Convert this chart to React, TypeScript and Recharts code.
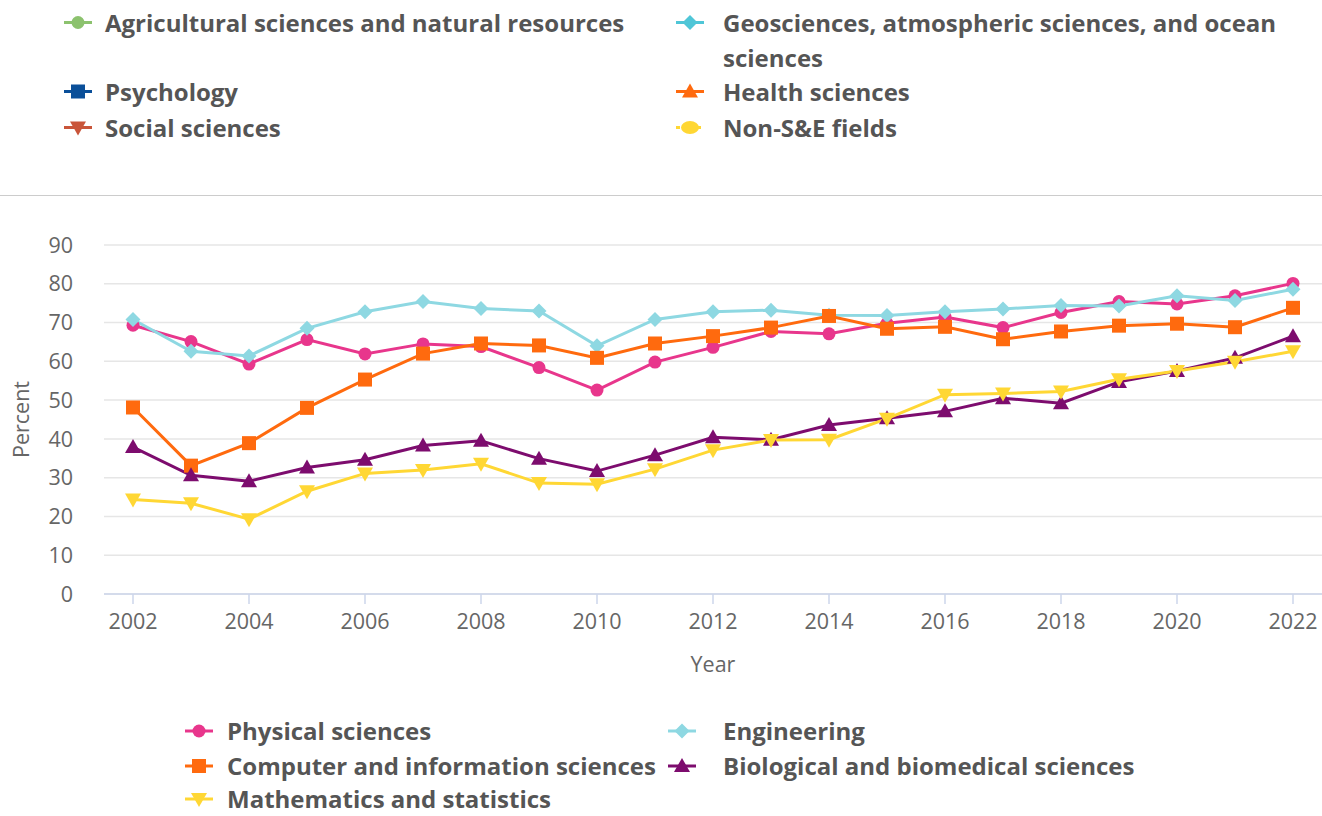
import React from 'react';
import { LineChart, Line, XAxis, YAxis, CartesianGrid, Label } from 'recharts';

const years = [2002, 2003, 2004, 2005, 2006, 2007, 2008, 2009, 2010, 2011, 2012, 2013, 2014, 2015, 2016, 2017, 2018, 2019, 2020, 2021, 2022];

const physical = [69.3, 65.1, 59.3, 65.6, 61.9, 64.5, 63.8, 58.4, 52.6, 59.8, 63.6, 67.7, 67.1, 69.8, 71.4, 68.7, 72.6, 75.4, 74.8, 76.9, 80.1];
const engineering = [70.8, 62.6, 61.4, 68.5, 72.8, 75.4, 73.6, 73.0, 64.0, 70.8, 72.8, 73.2, 71.9, 71.8, 72.8, 73.5, 74.4, 74.3, 76.9, 75.7, 78.6];
const computer = [48.1, 33.1, 38.9, 48.0, 55.3, 62.0, 64.6, 64.1, 60.9, 64.6, 66.5, 68.7, 71.7, 68.4, 68.9, 65.7, 67.7, 69.2, 69.7, 68.8, 73.8];
const biological = [37.9, 30.6, 29.1, 32.6, 34.6, 38.3, 39.5, 34.9, 31.7, 35.8, 40.4, 39.8, 43.6, 45.3, 47.1, 50.5, 49.2, 54.7, 57.5, 60.9, 66.5];
const maths = [24.4, 23.4, 19.3, 26.5, 31.1, 32.0, 33.6, 28.6, 28.3, 32.2, 37.1, 39.7, 39.8, 45.2, 51.4, 51.7, 52.2, 55.4, 57.5, 59.9, 62.6];

const yTicks = [0, 10, 20, 30, 40, 50, 60, 70, 80, 90];
const xTicks = [2002, 2004, 2006, 2008, 2010, 2012, 2014, 2016, 2018, 2020, 2022];

const data = years.map((year, i) => ({
  year,
  physical: physical[i],
  engineering: engineering[i],
  computer: computer[i],
  biological: biological[i],
  maths: maths[i],
}));

type Shape = 'circle' | 'diamond' | 'square' | 'triangle' | 'triangle-down' | 'ellipse';

const FONT = '"Open Sans", sans-serif';
const AXIS_TEXT = { fill: '#666666', fontSize: 21.5, fontFamily: FONT };

function marker(shape: Shape, cx: number, cy: number, color: string, key?: string) {
  switch (shape) {
    case 'circle':
      return <circle key={key} cx={cx} cy={cy} r={6.5} fill={color} />;
    case 'diamond':
      return <polygon key={key} points={`${cx},${cy - 7.5} ${cx + 7.5},${cy} ${cx},${cy + 7.5} ${cx - 7.5},${cy}`} fill={color} />;
    case 'square':
      return <rect key={key} x={cx - 7} y={cy - 7} width={14} height={14} fill={color} />;
    case 'triangle':
      return <polygon key={key} points={`${cx},${cy - 8} ${cx + 8},${cy + 6} ${cx - 8},${cy + 6}`} fill={color} />;
    case 'triangle-down':
      return <polygon key={key} points={`${cx - 8},${cy - 6} ${cx + 8},${cy - 6} ${cx},${cy + 8}`} fill={color} />;
    default:
      return <ellipse key={key} cx={cx} cy={cy} rx={9} ry={6.5} fill={color} />;
  }
}

function makeDot(shape: Shape, color: string) {
  return (props: any) => {
    const { cx, cy, index } = props;
    if (cx == null || cy == null) return <g key={`d-${index}`} />;
    return marker(shape, cx, cy, color, `d-${shape}-${index}`);
  };
}

const series = [
  { key: 'physical', name: 'Physical sciences', color: '#e8368c', shape: 'circle' as Shape },
  { key: 'engineering', name: 'Engineering', color: '#8ed8e2', shape: 'diamond' as Shape },
  { key: 'computer', name: 'Computer and information sciences', color: '#ff6a0e', shape: 'square' as Shape },
  { key: 'biological', name: 'Biological and biomedical sciences', color: '#7d0c6e', shape: 'triangle' as Shape },
  { key: 'maths', name: 'Mathematics and statistics', color: '#ffd734', shape: 'triangle-down' as Shape },
];

// legend entries of the series that are switched off
const hiddenSeries = [
  { name: 'Agricultural sciences and natural resources', color: '#8cc26e', shape: 'circle' as Shape, x: 63, tx: 105, y: 5 },
  { name: 'Geosciences, atmospheric sciences, and ocean sciences', color: '#4fc6d7', shape: 'diamond' as Shape, x: 675, tx: 723, y: 5 },
  { name: 'Psychology', color: '#0a4f99', shape: 'square' as Shape, x: 63, tx: 105, y: 74 },
  { name: 'Health sciences', color: '#ff6a0e', shape: 'triangle' as Shape, x: 675, tx: 723, y: 74 },
  { name: 'Social sciences', color: '#c9553a', shape: 'triangle-down' as Shape, x: 63, tx: 105, y: 110 },
  { name: 'Non-S&E fields', color: '#ffd734', shape: 'ellipse' as Shape, x: 675, tx: 723, y: 110, dashed: true },
];

const bottomPos = [
  { x: 184, tx: 227, y: 721 },
  { x: 667, tx: 723, y: 721 },
  { x: 184, tx: 227, y: 756 },
  { x: 667, tx: 723, y: 756 },
  { x: 184, tx: 227, y: 789 },
];

function LegendItem({ name, color, shape, x, tx, y, dashed, lh = 35 }: { name: string; color: string; shape: Shape; x: number; tx: number; y: number; dashed?: boolean; lh?: number }) {
  return (
    <>
      <svg width={30} height={lh} style={{ position: 'absolute', left: x, top: y }}>
        <line x1={1} x2={29} y1={lh / 2} y2={lh / 2} stroke={color} strokeWidth={3} strokeDasharray={dashed ? '4 3' : undefined} />
        {marker(shape, 15, lh / 2, color)}
      </svg>
      <div style={{ position: 'absolute', left: tx, top: y, width: 580, fontFamily: FONT, fontWeight: 700, fontSize: 24, lineHeight: `${lh}px`, color: '#555555', whiteSpace: 'normal' }}>{name}</div>
    </>
  );
}

export default function App() {
  return (
    <div style={{ position: 'absolute', left: 0, top: 0, width: 1322, height: 816, background: '#fff' }}>
      {hiddenSeries.map((s) => (
        <LegendItem key={s.name} {...s} />
      ))}
      <div style={{ position: 'absolute', left: 0, top: 195, width: 1322, height: 0, borderTop: '1.5px solid #cccccc' }} />
      <div style={{ position: 'absolute', left: 0, top: 230 }}>
        <LineChart width={1322} height={460} data={data} margin={{ top: 15, right: 0, bottom: 16, left: 0 }}>
          <CartesianGrid horizontal vertical={false} stroke="#e6e6e6" strokeWidth={1.5} />
          <XAxis
            dataKey="year"
            type="number"
            domain={[2001.5, 2022.5]}
            ticks={xTicks}
            height={80}
            axisLine={{ stroke: '#ccd6eb', strokeWidth: 1.5 }}
            tickLine={{ stroke: '#ccd6eb', strokeWidth: 1.5 }}
            tickSize={10}
            tickMargin={10}
            tick={AXIS_TEXT}
          >
            <Label value="Year" position="insideBottom" offset={2} style={AXIS_TEXT} />
          </XAxis>
          <YAxis
            type="number"
            domain={[0, 90]}
            ticks={yTicks}
            width={104}
            axisLine={false}
            tickLine={false}
            tickSize={6}
            tickMargin={25}
            tick={AXIS_TEXT}
          >
            <Label
              content={(props: any) => {
                const vb = props.viewBox || {};
                const cx = 20;
                const cy = vb.y + vb.height / 2;
                return (
                  <text x={cx} y={cy} transform={`rotate(-90 ${cx} ${cy})`} textAnchor="middle" dominantBaseline="central" fill="#666666" fontSize={21.5} fontFamily={FONT}>
                    Percent
                  </text>
                );
              }}
            />
          </YAxis>
          {series.map((s) => (
            <Line
              key={s.key}
              dataKey={s.key}
              name={s.name}
              stroke={s.color}
              strokeWidth={3}
              type="linear"
              dot={makeDot(s.shape, s.color)}
              activeDot={false}
              isAnimationActive={false}
            />
          ))}
        </LineChart>
      </div>
      {series.map((s, i) => (
        <LegendItem key={s.key} name={s.name} color={s.color} shape={s.shape} x={bottomPos[i].x} tx={bottomPos[i].tx} y={bottomPos[i].y} lh={20} />
      ))}
    </div>
  );
}
